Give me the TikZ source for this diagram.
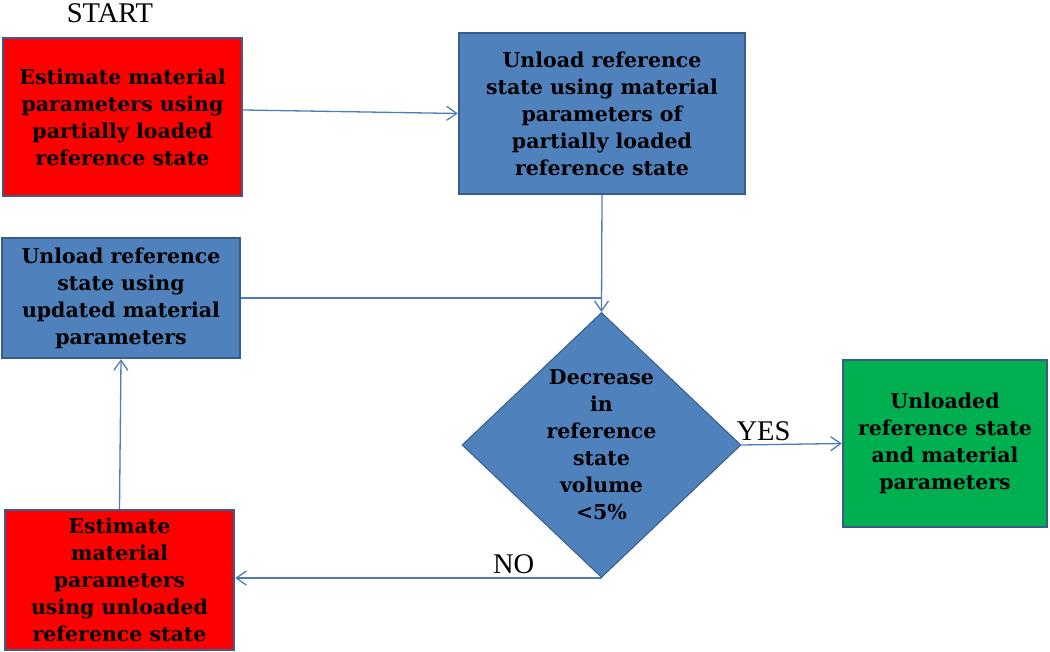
\documentclass[tikz,border=0pt]{standalone}
\usepackage{fontspec}
\setmainfont{Liberation Serif}
\newfontfamily\boxfont{DejaVu Serif}
\usetikzlibrary{shapes.geometric,arrows.meta}
\definecolor{boxred}{HTML}{FF0000}
\definecolor{boxblue}{HTML}{4F81BD}
\definecolor{boxgreen}{HTML}{00B050}
\definecolor{rim}{HTML}{385D8A}
\definecolor{wire}{HTML}{4A7EBB}
\begin{document}
\begin{tikzpicture}[x=1pt,y=-1pt,
    stepbox/.style={draw=rim, line width=2.4pt, align=center, inner sep=0pt,
        font=\boxfont\bfseries\fontsize{20.5}{27}\selectfont},
    decide/.style={diamond, draw=rim, fill=boxblue, line width=1pt, inner sep=0pt},
    flow/.style={wire, line width=1.3pt, -{Straight Barb[length=10pt,width=14pt]}},
    wire/.style={draw=wire, line width=1.3pt},
    tag/.style={font=\fontsize{28.5}{32}\selectfont}]
    \useasboundingbox (0,0) rectangle (1050,652);
    
    % boxes
    \node[tag] (start) at (110,13) {START};
    \node[stepbox, fill=boxred, minimum width=239pt, minimum height=158pt] (est1) at (122.5,117)
        {Estimate material\\parameters using\\partially loaded\\reference state};
    \node[stepbox, fill=boxblue, minimum width=286pt, minimum height=161pt] (unl1) at (602,113.5)
        {Unload reference\\state using material\\parameters of\\partially loaded\\reference state};
    \node[stepbox, fill=boxblue, minimum width=238pt, minimum height=120pt] (unl2) at (121,298)
        {Unload reference\\state using\\updated material\\parameters};
    \node[stepbox, fill=boxred, minimum width=229pt, minimum height=140pt] (est2) at (119.5,580)
        {Estimate\\material\\parameters\\using unloaded\\reference state};
    \node[stepbox, fill=boxgreen, minimum width=204pt, minimum height=167pt] (done) at (945,443.5)
        {Unloaded\\reference state\\and material\\parameters};
    
    % decision diamond, text set on top of it
    \node[decide, minimum width=279pt, minimum height=265pt] (dec) at (601.5,445) {};
    \node[stepbox, draw=none] (dectxt) at (dec.center) {Decrease\\in\\reference\\state\\volume\\<5\%};
    
    % connectors
    \draw[flow] ([yshift=7pt]est1.east) -- (unl1.west);
    \draw[flow] (unl1.south) -- (dec.north);
    \draw[wire] (unl2.east) -- (unl2.east -| dec.north);
    \draw[flow] (dec.east) -- (done.west) node[tag, pos=0.22, above] (yes) {YES};
    \draw[flow] (dec.south) -- (dec.south -| est2.east) node[tag, pos=0.24, above] (no) {NO};
    \draw[flow] (est2.north) -- (unl2.south);
\end{tikzpicture}
\end{document}
